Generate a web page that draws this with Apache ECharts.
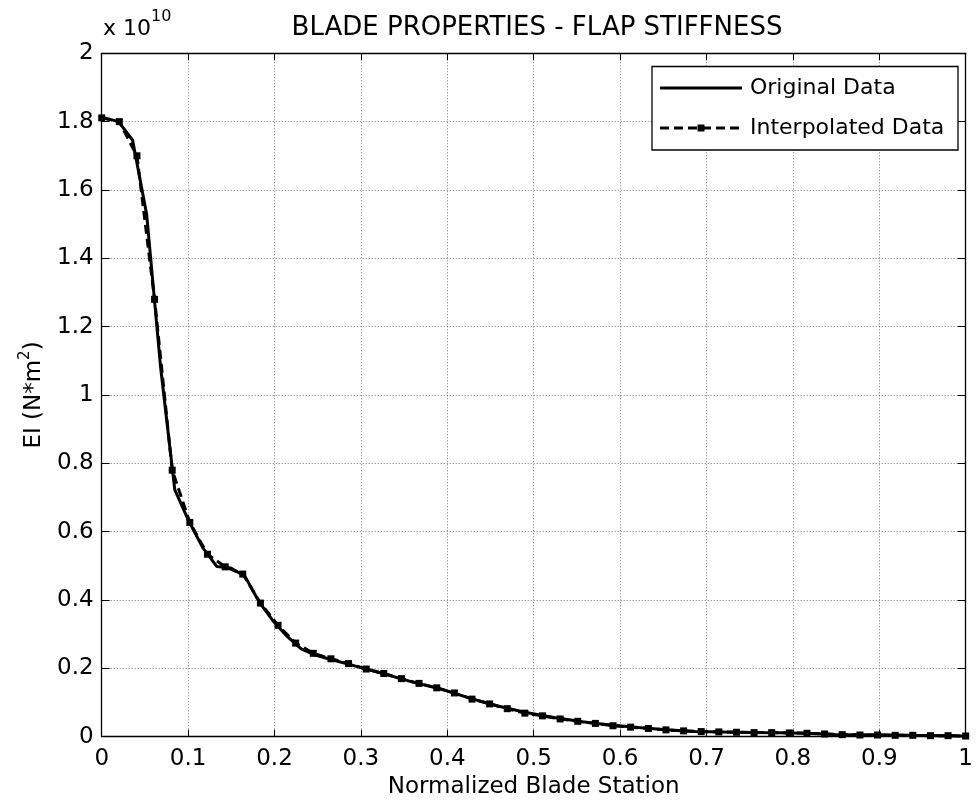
<!DOCTYPE html>
<html>
<head>
<meta charset="utf-8">
<script src="https://cdn.jsdelivr.net/npm/echarts@6/dist/echarts.min.js"></script>
<style>
html,body{margin:0;padding:0;background:#fff;}
#chart{width:976px;height:806px;}
</style>
</head>
<body>
<div id="chart"></div>
<script>
// ---- data (EI in units of 1e10 N*m^2) ----
const chartTitle = 'BLADE PROPERTIES - FLAP STIFFNESS';
const xAxisTitle = 'Normalized Blade Station';
const seriesNames = ['Original Data', 'Interpolated Data'];
const xTicks = [0, 0.1, 0.2, 0.3, 0.4, 0.5, 0.6, 0.7, 0.8, 0.9, 1];
const yTicks = [0, 0.2, 0.4, 0.6, 0.8, 1, 1.2, 1.4, 1.6, 1.8, 2];

const stationOriginal = [0.00000, 0.00325, 0.01951, 0.03577, 0.05203, 0.06829, 0.08455, 0.10081, 0.11707, 0.13335,
  0.14959, 0.16585, 0.18211, 0.19837, 0.21465, 0.23089, 0.24715, 0.26341, 0.29595, 0.32846,
  0.36098, 0.39350, 0.42602, 0.45855, 0.49106, 0.52358, 0.55610, 0.58862, 0.62115, 0.65366,
  0.68618, 0.71870, 0.75122, 0.78376, 0.81626, 0.84878, 0.88130, 0.89756, 0.91382, 0.93008,
  0.93821, 0.94636, 0.95447, 0.96260, 0.97074, 0.97886, 0.98699, 0.99512, 1.00000];
const eiOriginal = [1.811, 1.811, 1.800, 1.7456, 1.5287, 1.0782, 0.7230, 0.6310, 0.5528, 0.4980,
  0.4937, 0.4692, 0.3949, 0.3387, 0.2934, 0.2569, 0.2389, 0.2272, 0.2050, 0.1828,
  0.1589, 0.1390, 0.1130, 0.0900, 0.0710, 0.0560, 0.0440, 0.0340, 0.0270, 0.0205,
  0.0150, 0.0135, 0.0120, 0.0115, 0.0100, 0.0065, 0.0055, 0.0050, 0.0048, 0.0043,
  0.0040, 0.0038, 0.0035, 0.0033, 0.0030, 0.0028, 0.0025, 0.0022, 0.0020];

const stationInterp = [0.0000, 0.0204, 0.0408, 0.0612, 0.0816, 0.1020, 0.1224, 0.1429, 0.1633, 0.1837,
  0.2041, 0.2245, 0.2449, 0.2653, 0.2857, 0.3061, 0.3265, 0.3469, 0.3673, 0.3878,
  0.4082, 0.4286, 0.4490, 0.4694, 0.4898, 0.5102, 0.5306, 0.5510, 0.5714, 0.5918,
  0.6122, 0.6327, 0.6531, 0.6735, 0.6939, 0.7143, 0.7347, 0.7551, 0.7755, 0.7959,
  0.8163, 0.8367, 0.8571, 0.8776, 0.8980, 0.9184, 0.9388, 0.9592, 0.9796, 1.0000];
const eiInterp = [1.811, 1.800, 1.700, 1.280, 0.780, 0.627, 0.534, 0.497, 0.476, 0.391,
  0.326, 0.274, 0.244, 0.228, 0.214, 0.198, 0.185, 0.170, 0.156, 0.143,
  0.128, 0.110, 0.096, 0.082, 0.069, 0.061, 0.052, 0.045, 0.039, 0.032,
  0.028, 0.024, 0.020, 0.017, 0.015, 0.014, 0.013, 0.012, 0.012, 0.011,
  0.010, 0.008, 0.006, 0.005, 0.005, 0.004, 0.004, 0.003, 0.003, 0.002];

// ---- chart ----
const FONT = 'DejaVu Sans';
const chart = echarts.init(document.getElementById('chart'), null, {renderer: 'canvas'});
const fmt = v => String(+v.toFixed(1));
const xMin = xTicks[0], xMax = xTicks[xTicks.length - 1], xInt = +(xTicks[1] - xTicks[0]).toFixed(2);
const yMin = yTicks[0], yMax = yTicks[yTicks.length - 1], yInt = +(yTicks[1] - yTicks[0]).toFixed(2);

const gridLine = {show: true, lineStyle: {color: '#7a7a7a', width: 1, type: [1, 2]}};
const axisLineBlack = {show: true, onZero: false, lineStyle: {color: '#000', width: 1.3}};

const GL = 101.7, GT = 53.3, GR = 974.7, GB = 736.7;

const option = {
  animation: false,
  backgroundColor: '#fff',
  title: {
    text: chartTitle,
    left: 532, top: 10, textAlign: 'center',
    textStyle: {fontFamily: FONT, fontSize: 26, fontWeight: 'normal', color: '#000'}
  },
  grid: {left: GL, top: GT, right: 976 - GR, bottom: 806 - GB, containLabel: false},
  xAxis: [{
    type: 'value', min: xMin, max: xMax, interval: xInt, position: 'bottom',
    name: xAxisTitle, nameLocation: 'middle', nameGap: 38,
    nameTextStyle: {fontFamily: FONT, fontSize: 23, color: '#000'},
    axisLine: axisLineBlack,
    axisTick: {show: true, inside: true, length: 7, lineStyle: {color: '#000'}},
    axisLabel: {fontFamily: FONT, fontSize: 23, color: '#000', margin: 11, formatter: fmt},
    splitLine: gridLine
  }, {
    type: 'value', min: xMin, max: xMax, interval: xInt, position: 'top',
    axisLine: axisLineBlack,
    axisTick: {show: true, inside: true, length: 7, lineStyle: {color: '#000'}},
    axisLabel: {show: false}, splitLine: {show: false}
  }],
  yAxis: [{
    type: 'value', min: yMin, max: yMax, interval: yInt, position: 'left',
    name: '{a|EI (N*m}{s|2}{a|)}', nameLocation: 'middle', nameGap: 56, nameRotate: 90,
    nameTextStyle: {
      fontFamily: FONT, fontSize: 23, color: '#000',
      rich: {
        a: {fontFamily: FONT, fontSize: 23, color: '#000', lineHeight: 28, verticalAlign: 'bottom'},
        s: {fontFamily: FONT, fontSize: 15, color: '#000', lineHeight: 28, verticalAlign: 'top'}
      }
    },
    axisLine: axisLineBlack,
    axisTick: {show: true, inside: true, length: 8, lineStyle: {color: '#000'}},
    axisLabel: {fontFamily: FONT, fontSize: 23, color: '#000', margin: 8, formatter: fmt},
    splitLine: gridLine
  }, {
    type: 'value', min: yMin, max: yMax, interval: yInt, position: 'right',
    axisLine: axisLineBlack,
    axisTick: {show: true, inside: true, length: 8, lineStyle: {color: '#000'}},
    axisLabel: {show: false}, splitLine: {show: false}
  }],
  series: [{
    name: seriesNames[0], type: 'line', xAxisIndex: 0, yAxisIndex: 0,
    data: stationOriginal.map((x, i) => [x, eiOriginal[i]]),
    symbol: 'none', clip: false, z: 2,
    lineStyle: {color: '#000', width: 3}
  }, {
    name: seriesNames[1], type: 'line', xAxisIndex: 0, yAxisIndex: 0,
    data: stationInterp.map((x, i) => [x, eiInterp[i]]),
    symbol: 'rect', symbolSize: 7, showSymbol: true, clip: false, z: 3,
    itemStyle: {color: '#000'},
    lineStyle: {color: '#000', width: 3, type: [9, 5]}
  }],
  graphic: [
    // exponent label
    {type: 'text', left: 103, top: 9, style: {
      text: '{a|x 10}{s|10}',
      rich: {
        a: {fontFamily: FONT, fontSize: 22, fill: '#000', lineHeight: 31, verticalAlign: 'bottom'},
        s: {fontFamily: FONT, fontSize: 16, fill: '#000', lineHeight: 31, verticalAlign: 'top'}
      }
    }},
    // legend box
    {type: 'rect', shape: {x: 652, y: 66.5, width: 306, height: 83.5},
     style: {fill: '#fff', stroke: '#000', lineWidth: 1.3}, z: 10},
    {type: 'line', shape: {x1: 660, y1: 88, x2: 742, y2: 88},
     style: {stroke: '#000', lineWidth: 3}, z: 11},
    {type: 'text', x: 750, y: 88, style: {text: seriesNames[0], fontFamily: FONT, fontSize: 22,
      fill: '#000', textVerticalAlign: 'middle'}, z: 11},
    {type: 'line', shape: {x1: 660, y1: 128, x2: 742, y2: 128},
     style: {stroke: '#000', lineWidth: 3, lineDash: [9, 5]}, z: 11},
    {type: 'rect', shape: {x: 697.5, y: 124.5, width: 7, height: 7},
     style: {fill: '#000'}, z: 12},
    {type: 'text', x: 750, y: 128, style: {text: seriesNames[1], fontFamily: FONT, fontSize: 22,
      fill: '#000', textVerticalAlign: 'middle'}, z: 11}
  ]
};
chart.setOption(option);
</script>
</body>
</html>
